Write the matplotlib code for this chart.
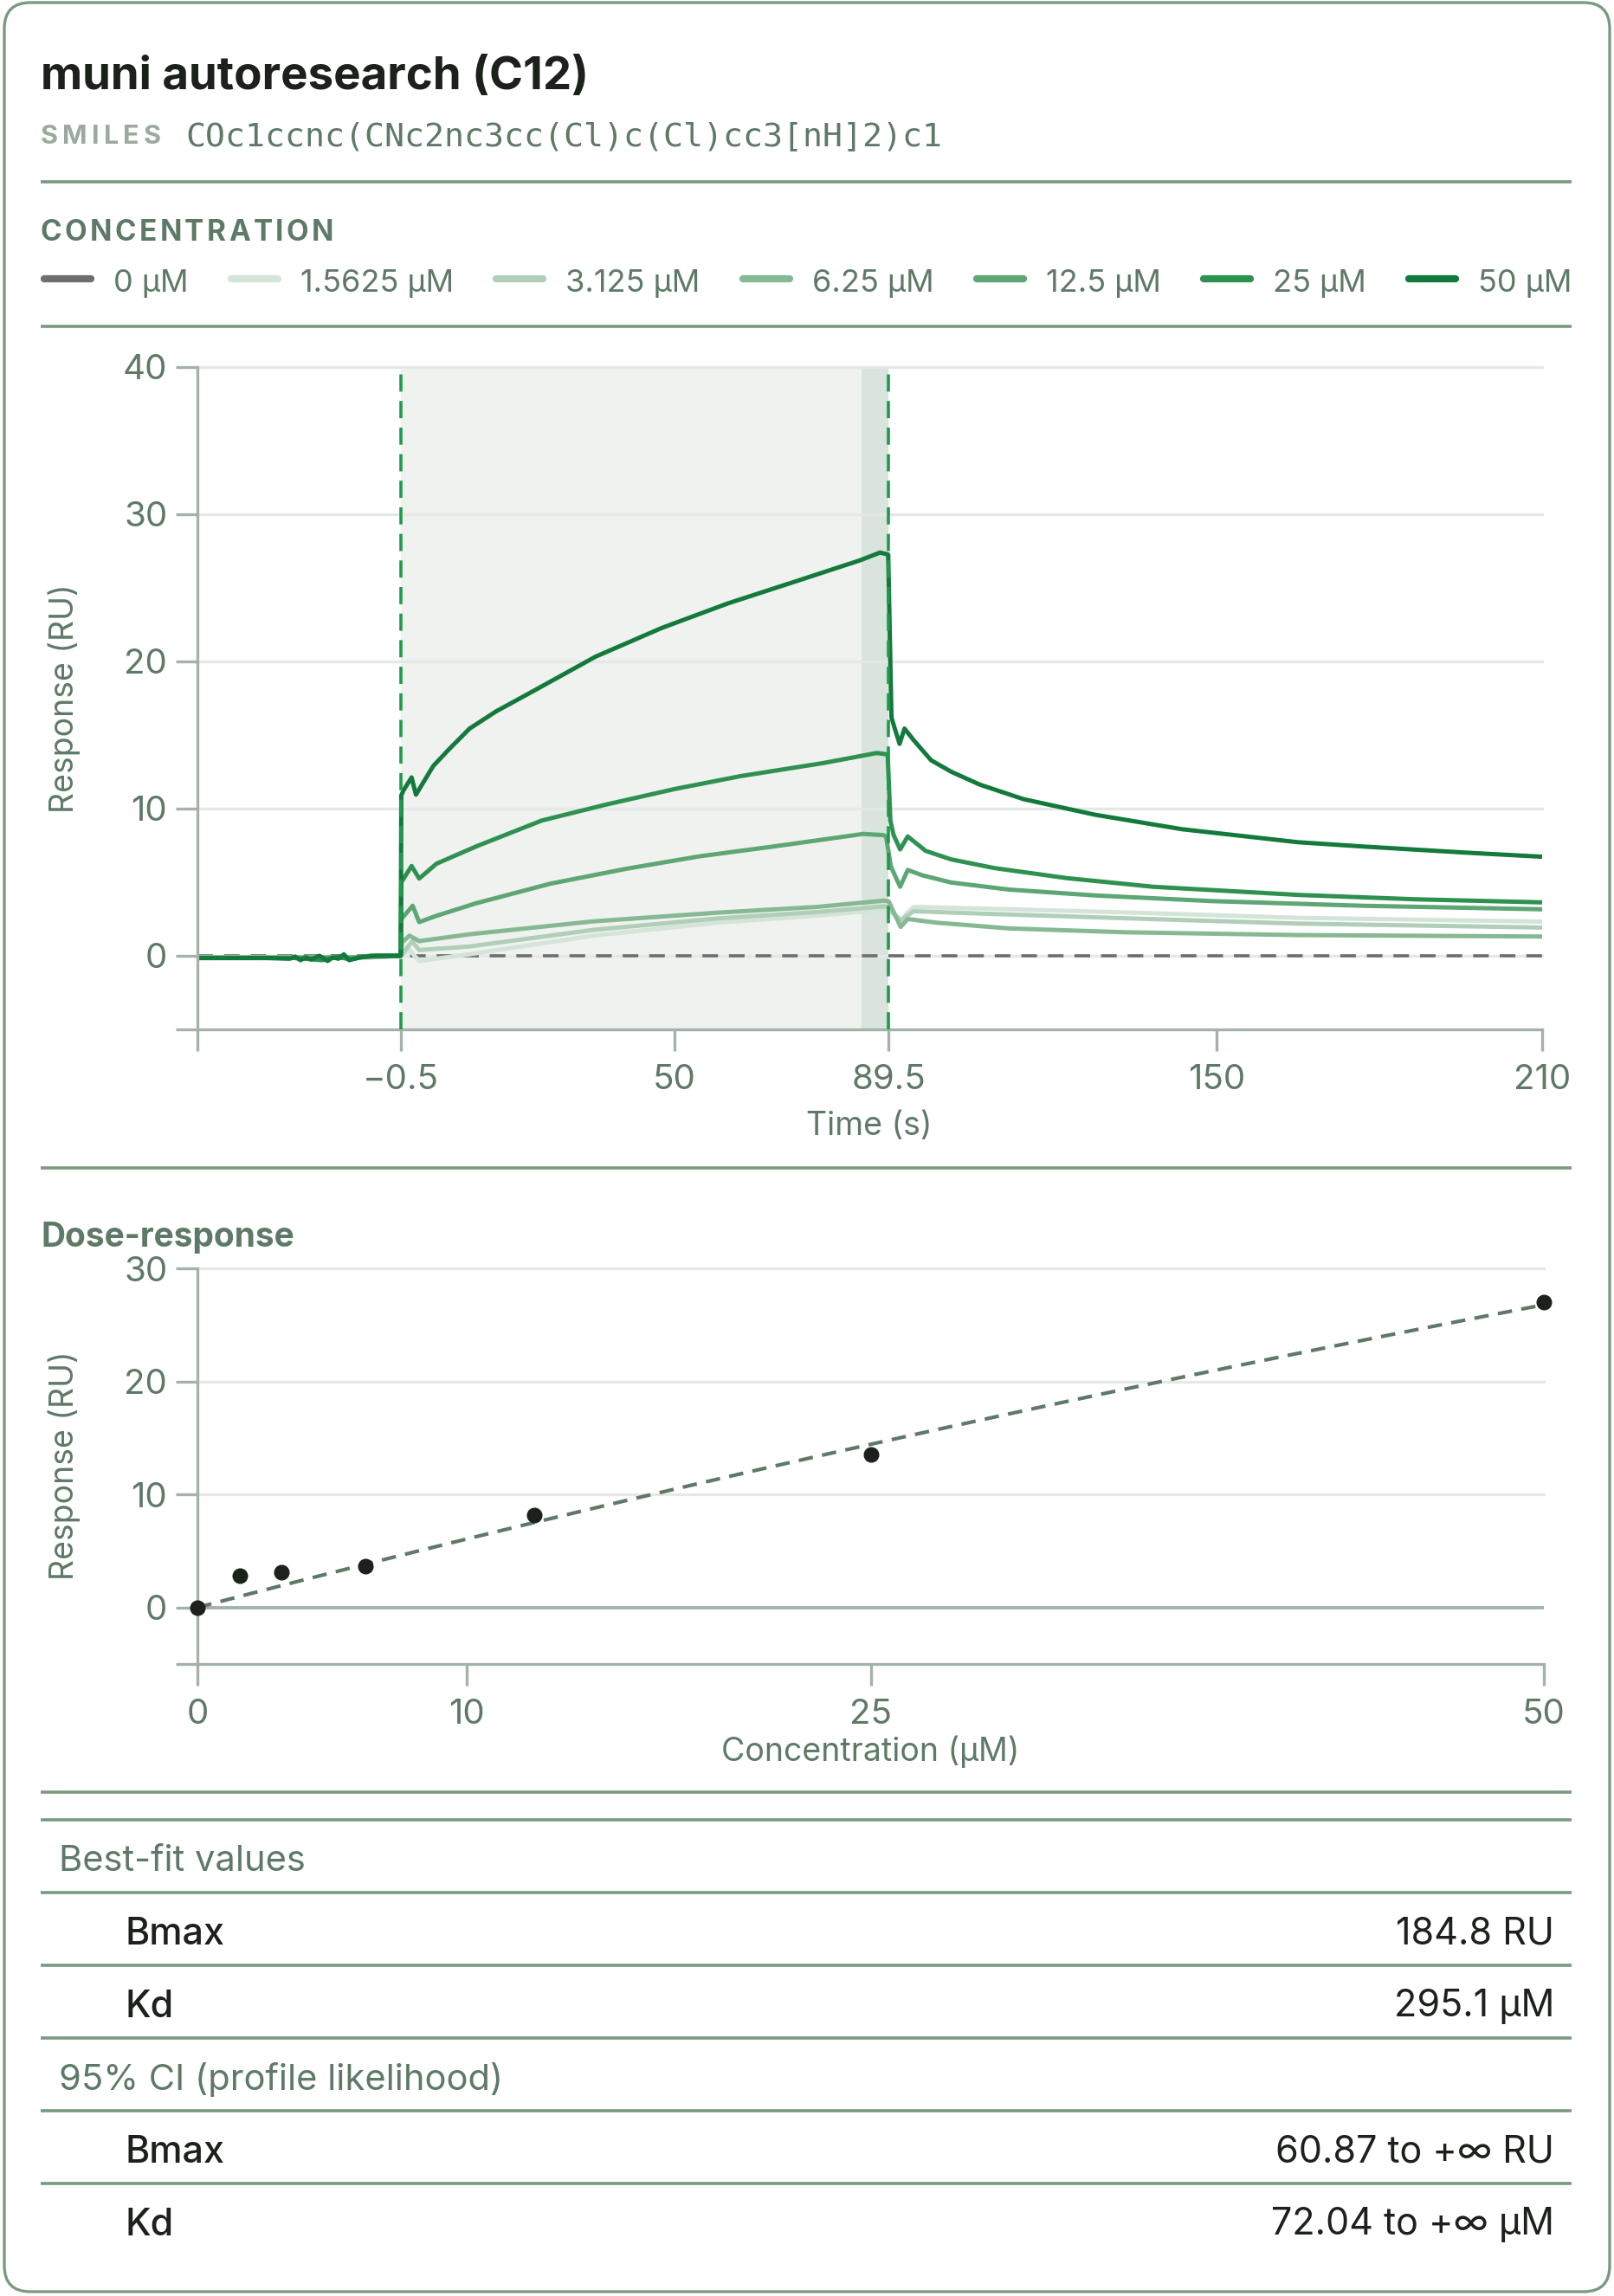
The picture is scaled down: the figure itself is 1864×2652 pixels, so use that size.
import numpy as np
import matplotlib
matplotlib.use("Agg")
import matplotlib.pyplot as plt
from matplotlib.patches import FancyBboxPatch

plt.rcParams["font.family"] = ["Inter", "DejaVu Sans"]

W, H = 1864, 2652

TITLE = "muni autoresearch (C12)"
SMILES = "COc1ccnc(CNc2nc3cc(Cl)c(Cl)cc3[nH]2)c1"

CONC_LABELS = ["0 µM", "1.5625 µM", "3.125 µM", "6.25 µM", "12.5 µM", "25 µM", "50 µM"]
CONC_COLORS = ["#6e6e6e", "#d4e4d8", "#b1cfb8", "#86b993", "#5ea673", "#2f9150", "#137a3c"]

# sensorgram traces (time in s, response in RU)
T_0 = [-38, 210]
RU_0 = [0, 0]

T_1p56 = [-38, -6, -0.5, 1.1, 2.9, 12.1, 35, 57.9, 76.2, 88.6, 89.5, 90.3, 91.7, 94.1,
          108.1, 137.5, 164.9, 210]
RU_1p56 = [-0.1, -0.1, 0, 0.39, -0.35, 0.1, 1.37, 2.25, 2.73, 3.12, 3.1, 2.9, 2.45, 3.32,
           3.2, 2.9, 2.58, 2.32]

T_3p13 = [-38, -6, -0.5, 1.6, 2.9, 12.1, 35, 57.9, 76.2, 88.6, 89.5, 90.3, 91.7, 94.1,
          108.1, 137.5, 164.9, 210]
RU_3p13 = [-0.1, -0.1, 0, 0.98, 0.39, 0.63, 1.76, 2.54, 2.97, 3.36, 3.3, 2.9, 2.4, 3.03,
           2.85, 2.5, 2.19, 1.92]

T_6p25 = [-38, -6, -0.5, -0.3, 1.1, 2.9, 12.1, 35, 57.9, 76.2, 88.6, 89.5, 90.1, 91.7,
          93.0, 98.3, 111.7, 133, 164.9, 210]
RU_6p25 = [-0.1, -0.1, 0, 0.9, 1.37, 1.0, 1.46, 2.34, 2.93, 3.32, 3.75, 3.7, 3.22, 1.96,
           2.5, 2.25, 1.86, 1.6, 1.41, 1.31]

T_12p5 = [-38, -20, -10, -6, -0.5, -0.4, 1.7, 2.9, 6.1, 13.4, 27.1, 40.9, 54.6, 68.3,
          84.8, 88.5, 89.0, 89.9, 91.6, 93.0, 95.7, 101.0, 111.7, 127.6, 148.9, 176.8, 210]
RU_12p5 = [-0.15, -0.15, -0.15, 0, 0, 2.5, 3.4, 2.29, 2.72, 3.57, 4.9, 5.9, 6.76, 7.43,
           8.28, 8.2, 8.11, 6.06, 4.69, 5.83, 5.47, 4.98, 4.5, 4.1, 3.72, 3.4, 3.16]

T_25 = [-38, -20, -15, -12, -10, -6, -0.5, -0.4, 1.5, 2.9, 6.1, 13.4, 25.5, 37.2, 50,
        62.2, 77.5, 87.3, 89.3, 89.8, 90.4, 91.6, 93.0, 96.3, 101.0, 109.0, 122.3, 138.3,
        164.9, 186.6, 210]
RU_25 = [-0.15, -0.15, -0.3, -0.05, -0.25, 0, 0, 5.0, 6.1, 5.25, 6.26, 7.43, 9.19, 10.26,
         11.33, 12.21, 13.1, 13.78, 13.68, 9.19, 8.2, 7.23, 8.11, 7.13, 6.55, 5.96, 5.28,
         4.69, 4.14, 3.84, 3.63]

T_50 = [-38, -25, -21, -20, -19, -18, -17, -15.5, -14, -13, -12, -11, -10, -8, -5, -0.5,
        -0.4, 0.0, 1.5, 2.3, 5.5, 8.5, 12.2, 17.1, 24.4, 35.4, 47.6, 59.8, 72.0, 84.2,
        87.9, 89.4, 90.0, 90.6, 91.5, 92.4, 94.1, 97.3, 101.0, 106.3, 114.3, 127.6, 143.6,
        164.9, 176.8, 196.4, 210]
RU_50 = [-0.15, -0.15, -0.2, -0.05, -0.3, -0.1, -0.25, 0.0, -0.35, -0.1, -0.2, 0.1, -0.3,
         -0.1, 0.0, 0.0, 10.9, 11.24, 12.12, 10.95, 12.9, 14.07, 15.44, 16.61, 18.08, 20.32,
         22.27, 23.94, 25.4, 26.87, 27.4, 27.26, 16.2, 15.45, 14.4, 15.44, 14.65, 13.29,
         12.51, 11.63, 10.65, 9.58, 8.6, 7.72, 7.43, 7.0, 6.73]

INJ_START, INJ_END, REPORT_START = -0.5, 89.5, 84.5
T_LIM = (-38, 210)
SG_XTICKS = [-38, -0.5, 50, 89.5, 150, 210]
SG_XLABELS = ["", "\u22120.5", "50", "89.5", "150", "210"]
SG_YTICKS = [-5, 0, 10, 20, 30, 40]
SG_YLABELS = ["", "0", "10", "20", "30", "40"]

# dose-response
DOSE_CONC = [0, 1.5625, 3.125, 6.25, 12.5, 25, 50]
DOSE_RESP = [0.0, 2.85, 3.1, 3.63, 8.16, 13.54, 27.04]
BMAX, KD = 184.8, 295.1
DR_XTICKS = [0, 10, 25, 50]
DR_YTICKS = [-5, 0, 10, 20, 30]
DR_YLABELS = ["", "0", "10", "20", "30"]

PARAM_NAMES = ["Bmax", "Kd"]
BEST_FIT = ["184.8 RU", "295.1 µM"]
CI_95 = ["60.87 to +\u221e RU", "72.04 to +\u221e µM"]

BORDER = "#7a9a80"
AXIS_C = "#a3b3a7"
GRID_C = "#e4e9e5"
LABEL_C = "#5e7a66"
DARK = "#1c211c"

fig = plt.figure(figsize=(W / 100, H / 100), dpi=100)
bg = fig.add_axes([0, 0, 1, 1], zorder=0)
bg.set_xlim(0, W)
bg.set_ylim(H, 0)
bg.axis("off")
renderer = fig.canvas.get_renderer()

bg.add_patch(FancyBboxPatch((5, 3), W - 10, H - 8, boxstyle="round,pad=0,rounding_size=30",
                            fc="white", ec=BORDER, lw=2.4))


def sep(y):
    bg.plot([47, 1815], [y, y], color=BORDER, lw=2.6, solid_capstyle="butt")


def spaced(x, y, s, width, **kw):
    arts = [bg.text(0, y, c, va="center", **kw) for c in s]
    ws = [a.get_window_extent(renderer).width for a in arts]
    gap = (width - sum(ws)) / (len(s) - 1)
    for a, w in zip(arts, ws):
        a.set_x(x)
        x += w + gap


# header
bg.text(47, 89, TITLE, fontsize=38, fontweight="bold", color=DARK, va="center")
spaced(47, 158, "SMILES", 139, fontsize=22, fontweight="bold", color="#9aab9e")
bg.text(214, 158, SMILES, fontsize=27.5, family="DejaVu Sans Mono", color=LABEL_C, va="center")
sep(210)
spaced(47, 269, "CONCENTRATION", 338, fontsize=24, fontweight="bold", color=LABEL_C)

# legend row, spread across the card width
handle_w, handle_gap = 62, 22
labels = [bg.text(0, 327, lab, fontsize=26, color=LABEL_C, va="center") for lab in CONC_LABELS]
lw_ = [t.get_window_extent(renderer).width for t in labels]
free = (1815 - 47) - sum(handle_w + handle_gap + w for w in lw_)
gap = free / (len(labels) - 1)
x = 47
for t, w, c in zip(labels, lw_, CONC_COLORS):
    bg.plot([x + 4, x + handle_w - 4], [322, 322], color=c, lw=6, solid_capstyle="round")
    t.set_x(x + handle_w + handle_gap)
    x += handle_w + handle_gap + w + gap
sep(377)


def style(ax):
    ax.patch.set_alpha(0)
    for s in ["top", "right"]:
        ax.spines[s].set_visible(False)
    for s in ["left", "bottom"]:
        ax.spines[s].set_color(AXIS_C)
        ax.spines[s].set_linewidth(2.4)
    ax.tick_params(length=18, width=2.4, color=AXIS_C, labelcolor=LABEL_C, labelsize=29, pad=7)
    ax.tick_params(axis="x", pad=11)


# sensorgram
ax = fig.add_axes([228 / W, 1 - 1189 / H, (1781 - 228) / W, (1189 - 424) / H], zorder=1)
style(ax)
ax.set_xlim(*T_LIM)
ax.set_ylim(-5, 40)
ax.axvspan(INJ_START, INJ_END, color="#f0f2f0", lw=0, zorder=0)
ax.axvspan(REPORT_START, INJ_END, color="#d9e4dc", lw=0, zorder=0.1)
for g in SG_YTICKS[1:]:
    ax.axhline(g, color=GRID_C, lw=2.4, zorder=0.2, clip_on=False)
for v in (INJ_START, INJ_END):
    ax.axvline(v, color="#1f9a4c", lw=2.6, ls=(0, (5.5, 3)), zorder=3)
ax.plot(T_0, RU_0, color=CONC_COLORS[0], lw=2.6, ls=(0, (5, 3.5)), zorder=2)
traces = [(T_1p56, RU_1p56), (T_3p13, RU_3p13), (T_6p25, RU_6p25),
          (T_12p5, RU_12p5), (T_25, RU_25), (T_50, RU_50)]
for (t, r), c in zip(traces, CONC_COLORS[1:]):
    ax.plot(t, r, color=c, lw=3.6, zorder=2.5, solid_joinstyle="round")
ax.set_xticks(SG_XTICKS, SG_XLABELS)
ax.set_yticks(SG_YTICKS, SG_YLABELS)
bg.text(1004, 1301, "Time (s)", fontsize=27, color=LABEL_C, ha="center", va="center")
bg.text(74, 807, "Response (RU)", fontsize=27, color=LABEL_C, ha="center", va="center",
        rotation=90)
sep(1349)

# dose-response
bg.text(47, 1430, "Dose-response", fontsize=28, fontweight="bold", color=LABEL_C, va="center")
ax2 = fig.add_axes([228 / W, 1 - 1922 / H, (1783 - 228) / W, (1922 - 1465) / H], zorder=1)
style(ax2)
ax2.set_xlim(0, 50)
ax2.set_ylim(-5, 30)
for g in DR_YTICKS[2:]:
    ax2.axhline(g, color=GRID_C, lw=2.4, zorder=0.2, clip_on=False)
ax2.axhline(0, color=AXIS_C, lw=2.8, zorder=0.3)
xfit = np.linspace(0, 50, 100)
ax2.plot(xfit, BMAX * xfit / (KD + xfit), color=LABEL_C, lw=3, ls=(0, (4, 2.6)), zorder=2)
ax2.plot(DOSE_CONC, DOSE_RESP, "o", color=DARK, ms=12, zorder=3, clip_on=False)
ax2.set_xticks(DR_XTICKS)
ax2.set_yticks(DR_YTICKS, DR_YLABELS)
bg.text(1005, 2023, "Concentration (µM)", fontsize=27, color=LABEL_C, ha="center", va="center")
bg.text(74, 1693, "Response (RU)", fontsize=27, color=LABEL_C, ha="center", va="center",
        rotation=90)

# fit table
sep(2070)
sep(2102)
step = 84
y = 2102
rows = [("head", "Best-fit values", "")]
rows += [("row", n, v) for n, v in zip(PARAM_NAMES, BEST_FIT)]
rows += [("head", "95% CI (profile likelihood)", "")]
rows += [("row", n, v) for n, v in zip(PARAM_NAMES, CI_95)]
for i, (kind, name, val) in enumerate(rows):
    cy = y + 48
    if kind == "head":
        bg.text(68, cy, name, fontsize=30, color=LABEL_C, va="center")
    else:
        bg.text(144, cy, name, fontsize=31, fontweight="medium", color=DARK, va="center")
        bg.text(1795, cy, val, fontsize=31, color=DARK, ha="right", va="center")
    y += step
    if i < len(rows) - 1:
        sep(y)

fig.savefig("out.png", dpi=100)
